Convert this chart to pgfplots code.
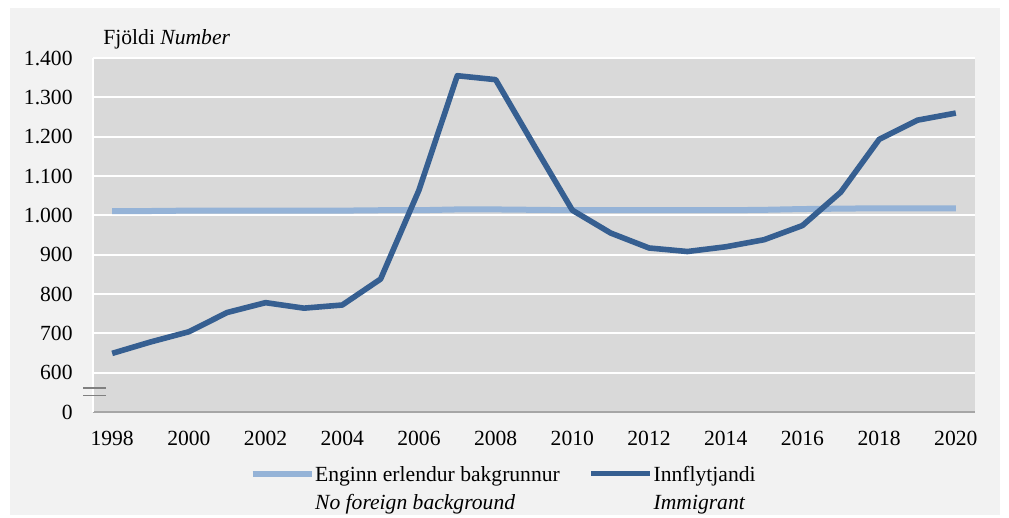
\documentclass[border=0pt]{standalone}
\usepackage{fontspec}
\setmainfont{Liberation Serif}
\usepackage{pgfplots}
\usepackage{pgfplotstable}
\pgfplotsset{compat=1.18}
\definecolor{immblue}{HTML}{365F91}
\definecolor{natblue}{HTML}{95B3D7}
\definecolor{plotbg}{HTML}{D9D9D9}
\definecolor{framebg}{HTML}{F2F2F2}

% year, no foreign background, immigrant
\pgfplotstableread{
year nat imm
1998 1011 649
1999 1011 678
2000 1012 704
2001 1012 753
2002 1012 778
2003 1012 764
2004 1012 772
2005 1013 838
2006 1013 1064
2007 1015 1355
2008 1015 1345
2009 1014 1178
2010 1013 1013
2011 1013 955
2012 1013 917
2013 1013 908
2014 1013 920
2015 1014 938
2016 1016 974
2017 1017 1059
2018 1018 1193
2019 1018 1242
2020 1018 1260
}\datatable

\begin{document}
\begin{tikzpicture}
\fill[white] (-46.5pt,-53pt) rectangle (458pt,206pt);
\fill[framebg] (-41.5pt,-51.5pt) rectangle (453.5pt,202pt);
\begin{axis}[
  at={(0,0)}, anchor=south west,
  scale only axis, width=441pt, height=177pt,
  xmin=1997.5, xmax=2020.5, ymin=500, ymax=1400,
  axis background/.style={fill=plotbg},
  axis x line*=bottom, axis y line*=left,
  x axis line style={draw=black!35, line width=1.2pt, -},
  y axis line style={draw=white, line width=1pt, -},
  xtick={1998,2000,...,2020},
  xticklabels={1998,2000,2002,2004,2006,2008,2010,2012,2014,2016,2018,2020},
  ytick={500,600,...,1400},
  yticklabels={0,600,700,800,900,1.000,1.100,1.200,1.300,1.400},
  ymajorgrids, grid style={white, line width=1pt},
  tick style={draw=none},
  ticklabel style={font=\fontsize{10.8}{13}\selectfont, inner sep=0pt},
  yticklabel style={anchor=east, xshift=-10pt},
  xticklabel style={anchor=north, yshift=-9.5pt},
  clip=false,
  legend columns=2,
  legend cell align=left,
  legend style={at={(0.177,-0.15)}, anchor=north west, draw=none, fill=none,
    font=\fontsize{10.8}{14}\selectfont, inner sep=0pt,
    cells={align=left},
    nodes={inner sep=0.3pt},
    /tikz/every even column/.append style={column sep=14pt}},
  legend image code/.code={\draw[#1] (0pt,7.8pt) -- (29.5pt,7.8pt);},
]
\addplot[natblue, line width=3pt] table[x=year, y=nat] {\datatable};
\addlegendentry{Enginn erlendur bakgrunnur\\\textit{No foreign background}}
\addplot[immblue, line width=2.8pt, line join=round] table[x=year, y=imm] {\datatable};
\addlegendentry{Innflytjandi\\\textit{Immigrant}}
\draw[black!50, line width=0.6pt] (axis cs:1997.24,561) -- (axis cs:1997.84,561);
\draw[black!50, line width=0.6pt] (axis cs:1997.24,541) -- (axis cs:1997.84,541);
\end{axis}
\node[anchor=base west, font=\fontsize{10.8}{13}\selectfont, inner sep=0pt] at (5pt,183.5pt) {Fjöldi \textit{Number}};
\end{tikzpicture}
\end{document}
